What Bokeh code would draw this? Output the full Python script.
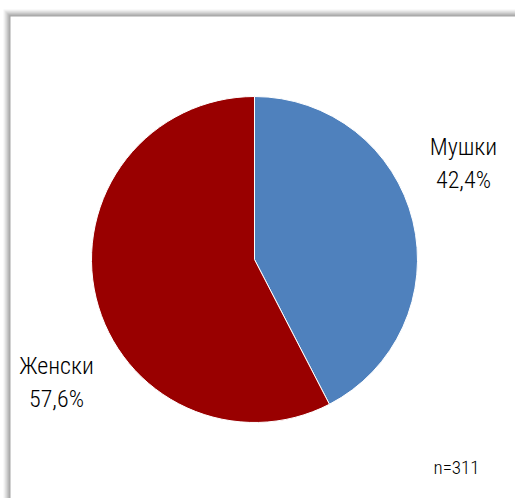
import math
from bokeh.plotting import figure
from bokeh.models import Range1d, ColumnDataSource
from bokeh.core.properties import value
from bokeh.embed import file_html
from bokeh.resources import INLINE

categories = ["Мушки", "Женски"]
shares = [42.4, 57.6]
colors = ["#4F81BD", "#990000"]
note = "n=311"

W, H = 515, 498
p = figure(width=W, height=H, output_backend="svg", toolbar_location=None,
           x_range=Range1d(0, W), y_range=Range1d(0, H), min_border=0)
p.axis.visible = False
p.grid.visible = False
p.outline_line_color = None
p.background_fill_color = "white"
p.border_fill_color = "white"

def Y(py):
    return H - py

# shadowed frame
shades = ["#f4f4f4", "#e9e9e9", "#dcdcdc", "#cfcfcf", "#c0c0c0", "#b2b2b2", "#a4a4a4"]
n = len(shades)
for i, c in enumerate(shades):
    off = n - i
    p.quad(left=10 - off, right=W + 10, top=Y(16 - off), bottom=Y(H + 10),
           fill_color=c, line_color=None)
p.quad(left=10, right=W + 10, top=Y(16), bottom=Y(H + 10), fill_color="white", line_color=None)

# pie
cx, cy, r = 254, Y(259), 163
starts, ends = [], []
a = math.pi / 2
for s in shares:
    starts.append(a)
    a = a - s / 100 * 2 * math.pi
    ends.append(a)
src = ColumnDataSource(dict(start=starts, end=ends, color=colors, cat=categories))
p.wedge(x=cx, y=cy, radius=r, start_angle="start", end_angle="end", direction="clock",
        fill_color="color", line_color="white", line_width=1, source=src)

font = value("Roboto Condensed Light")
lab_pos = [(463, 146, 179), (56, 365, 398)]
for cat, s, (lx, by1, by2) in zip(categories, shares, lab_pos):
    pct = f"{s:.1f}%".replace(".", ",")
    p.text(x=[lx], y=[Y(by1)], text=[cat], text_font=font, text_font_size="24px",
           text_align="center", text_baseline="alphabetic", text_color="#000000")
    p.text(x=[lx], y=[Y(by2)], text=[pct], text_font=font, text_font_size="24px",
           text_align="center", text_baseline="alphabetic", text_color="#000000")

p.text(x=[433], y=[Y(467)], text=[note], text_font=font, text_font_size="19px",
       text_align="left", text_baseline="alphabetic", text_color="#000000")

open("out.html", "w").write(file_html(p, INLINE))
